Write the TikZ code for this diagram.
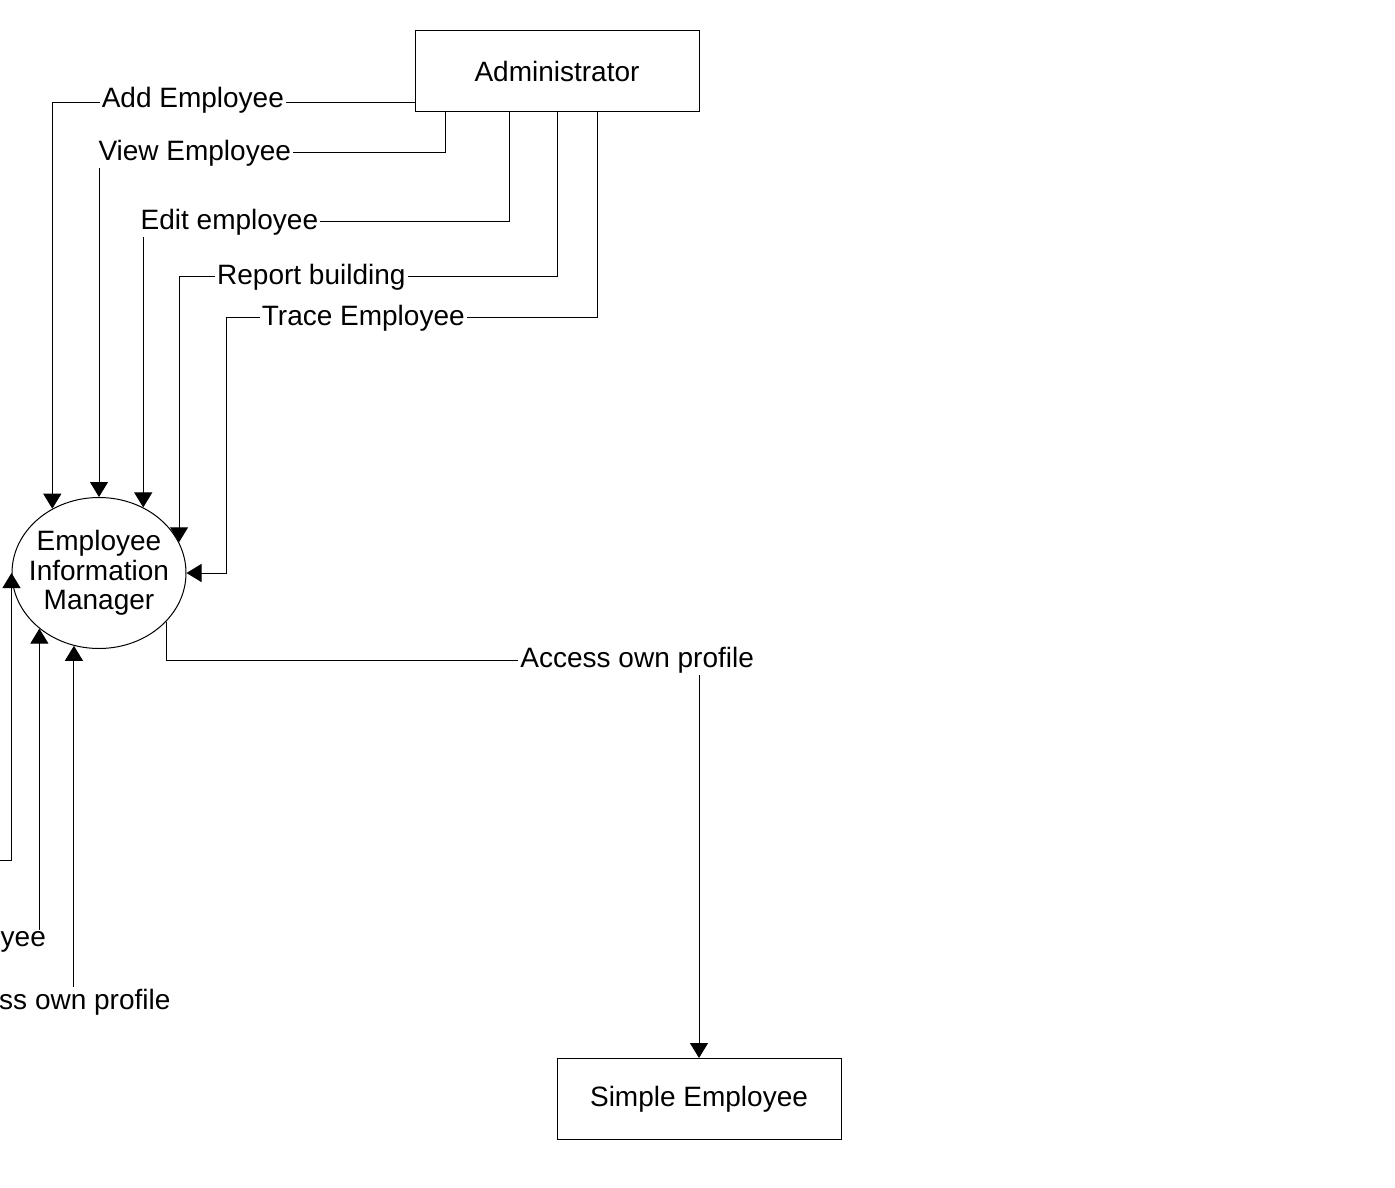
\documentclass[tikz,border=0pt]{standalone}
\usepackage{fontspec}
\setmainfont{Liberation Sans}
\usetikzlibrary{arrows.meta,shapes.geometric}

\begin{document}
\begin{tikzpicture}[x=0.5pt, y=-0.5pt, line width=0.5pt, font=\fontsize{14}{14.75}\selectfont,
    entity/.style={draw, minimum width=142pt, minimum height=40.5pt},
    process/.style={draw, ellipse, align=center, minimum width=87pt, minimum height=75.5pt,
        inner xsep=-5pt, inner ysep=0pt},
    flow/.style={-{Triangle[length=7.5pt,width=9pt]}},
    lbl/.style={fill=white, inner sep=1pt}]
\useasboundingbox (0,0) rectangle (1395,1187);

\node[entity] (admin) at (557,71.5) {Administrator};
\node[entity] (simple) at (699,1099) {Simple Employee};
\node[process] (eim) at ([yshift=-1pt]99,571) {Employee\\Information\\Manager};

% coming in from outside the page
\coordinate (offa) at (-20,860);
\coordinate (offb) at (-20,942);
\coordinate (offc) at (-20,1002);

% administrator flows
\draw[flow] ([yshift=5pt]admin.south west) -| node[lbl,pos=0.306,yshift=1pt] {Add Employee} (eim.126.7);
\draw[flow] ([xshift=15.5pt]admin.south west) |- (eim.north |- 0,153)
    node[lbl,anchor=west,xshift=-1.5pt] {View Employee} -- (eim.north);
\draw[flow] ([xshift=47.5pt]admin.south west) |- (eim.56.9 |- 0,222)
    node[lbl,anchor=west,xshift=-2.5pt] {Edit employee} -- (eim.56.9);
\draw[flow] (admin.south) |- node[lbl,pos=0.825] {Report building} (eim.21.4 |- 0,277) -- (eim.21.4);
\draw[flow] ([xshift=20pt]admin.south) |- node[lbl,pos=0.815] {Trace Employee} (226,318) |- (eim.east);

% simple employee flow
\draw[flow] (eim.324.4) |- node[lbl,pos=0.942] {Access own profile} (simple.north |- 0,660) -- (simple.north);

% left side
\draw[flow] (offa) -| (eim.west);
\draw[flow] (offb) -| node[lbl,pos=0.5,anchor=east,xshift=4.5pt] {yee} (eim.223.5);
\draw[flow] (offc) -| node[lbl,pos=0.5,anchor=east,xshift=49.5pt] {ss own profile} (eim.251.6);
\end{tikzpicture}
\end{document}
